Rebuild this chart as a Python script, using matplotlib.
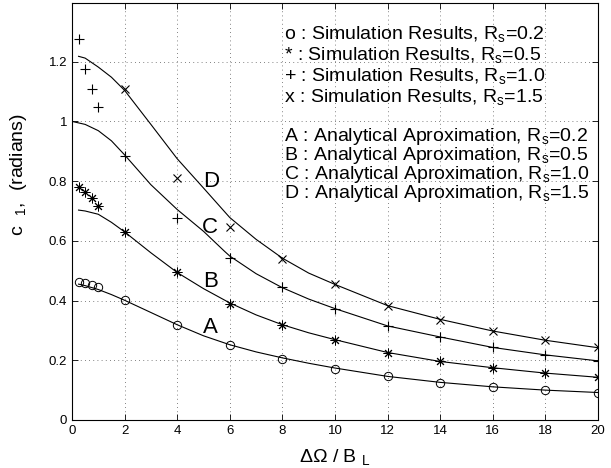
import matplotlib
matplotlib.use("Agg")
import matplotlib.pyplot as plt

plt.rcParams['font.family'] = ['Liberation Sans', 'DejaVu Sans']
plt.rcParams['mathtext.fontset'] = 'custom'
plt.rcParams['mathtext.rm'] = 'Liberation Sans'
plt.rcParams['mathtext.it'] = 'Liberation Sans:italic'

# simulation results
x_sim = [0.25, 0.5, 0.75, 1, 2, 4, 6, 8, 10, 12, 14, 16, 18, 20]
sim_02 = [0.462, 0.459, 0.453, 0.445, 0.401, 0.317, 0.252, 0.205, 0.171, 0.146, 0.125, 0.111, 0.100, 0.091]
sim_05 = [0.781, 0.764, 0.742, 0.717, 0.630, 0.495, 0.390, 0.319, 0.269, 0.226, 0.196, 0.175, 0.157, 0.144]
sim_10 = [1.275, 1.176, 1.107, 1.048, 0.883, 0.678, 0.543, 0.446, 0.373, 0.316, 0.277, 0.244, 0.217, 0.198]
x_sim15 = [2, 4, 6, 8, 10, 12, 14, 16, 18, 20]
sim_15 = [1.109, 0.812, 0.648, 0.538, 0.454, 0.383, 0.336, 0.298, 0.267, 0.243]

# analytical approximation curves
x_ab = [0.25, 0.5, 1, 1.5, 2, 3, 4, 5, 6, 7, 8, 9, 10, 12, 14, 16, 18, 20]
ana_A = [0.455, 0.450, 0.437, 0.420, 0.401, 0.360, 0.319, 0.282, 0.252, 0.228, 0.208, 0.190, 0.174, 0.146, 0.126, 0.111, 0.100, 0.092]
ana_B = [0.703, 0.700, 0.689, 0.662, 0.630, 0.560, 0.494, 0.440, 0.392, 0.352, 0.319, 0.292, 0.269, 0.226, 0.196, 0.175, 0.157, 0.143]
x_c = [0, 0.5, 1, 1.5, 2, 3, 4, 5, 5.8, 6, 7, 8, 9, 10, 12, 14, 16, 18, 20]
ana_C = [1.0, 0.990, 0.969, 0.935, 0.888, 0.788, 0.705, 0.632, 0.565, 0.549, 0.490, 0.443, 0.405, 0.373, 0.315, 0.278, 0.243, 0.218, 0.198]
x_d = [0.25, 0.5, 1, 1.5, 2, 3, 4, 5, 6, 7, 8, 9, 10, 12, 14, 16, 18, 20]
ana_D = [1.218, 1.212, 1.182, 1.148, 1.104, 0.990, 0.875, 0.777, 0.678, 0.605, 0.542, 0.492, 0.454, 0.383, 0.337, 0.298, 0.267, 0.242]

curve_labels = ['A', 'B', 'C', 'D']
label_pos = [(5.26, 0.309), (5.26, 0.465), (5.26, 0.644), (5.3, 0.798)]

legend_lines = [
    r'o : Simulation Results, R$_{\rm s}$=0.2',
    r'* : Simulation Results, R$_{\rm s}$=0.5',
    r'+ : Simulation Results, R$_{\rm s}$=1.0',
    r'x : Simulation Results, R$_{\rm s}$=1.5',
    r'A : Analytical Aproximation, R$_{\rm s}$=0.2',
    r'B : Analytical Aproximation, R$_{\rm s}$=0.5',
    r'C : Analytical Aproximation, R$_{\rm s}$=1.0',
    r'D : Analytical Aproximation, R$_{\rm s}$=1.5',
]
legend_y = [1.294, 1.222, 1.152, 1.082, 0.950, 0.886, 0.822, 0.758]

fig = plt.figure(figsize=(6.11, 4.68), dpi=100)
ax = fig.add_axes([0.1178, 0.1026, 0.8609, 0.890])

lw = 0.8
ax.plot(x_ab, ana_A, '-', color='k', lw=lw)
ax.plot(x_ab, ana_B, '-', color='k', lw=lw)
ax.plot(x_c, ana_C, '-', color='k', lw=lw)
ax.plot(x_d, ana_D, '-', color='k', lw=lw)

ax.plot(x_sim, sim_02, 'o', mfc='none', mec='k', ms=6, mew=0.7)
ax.plot(x_sim, sim_05, marker=(8, 2, 0), ls='none', color='k', ms=7, mew=0.7)
ax.plot(x_sim, sim_10, '+', color='k', ms=7, mew=0.8)
ax.plot(x_sim15, sim_15, 'x', color='k', ms=6, mew=0.8)

for lab, (lx, ly) in zip(curve_labels, label_pos):
    ax.text(lx, ly, lab, fontsize=16, ha='center', va='center')

for txt, ty in zip(legend_lines, legend_y):
    ax.text(8.08, ty, txt, fontsize=14, ha='left', va='center')

ax.set_xlim(0, 20)
ax.set_ylim(0, 1.395)
ax.set_xticks(range(0, 21, 2))
ax.set_yticks([0, 0.2, 0.4, 0.6, 0.8, 1.0, 1.2])
ax.set_yticklabels(['0', '0.2', '0.4', '0.6', '0.8', '1', '1.2'])
ax.tick_params(direction='in', labelsize=9.5, top=True, right=True, length=4, width=0.6)
ax.grid(True, linestyle=(0, (1, 4)), color='0.35', lw=0.6)
for s in ax.spines.values():
    s.set_linewidth(0.8)

ax.set_xlabel(r'ΔΩ / B $_{\rm L}$', fontsize=14)
ax.xaxis.set_label_coords(0.5, -0.064)
ax.set_ylabel(r'c  $_{\rm 1}$,  (radians)', fontsize=14)
ax.yaxis.set_label_coords(-0.082, 0.59)

fig.savefig('out.png', dpi=100)
